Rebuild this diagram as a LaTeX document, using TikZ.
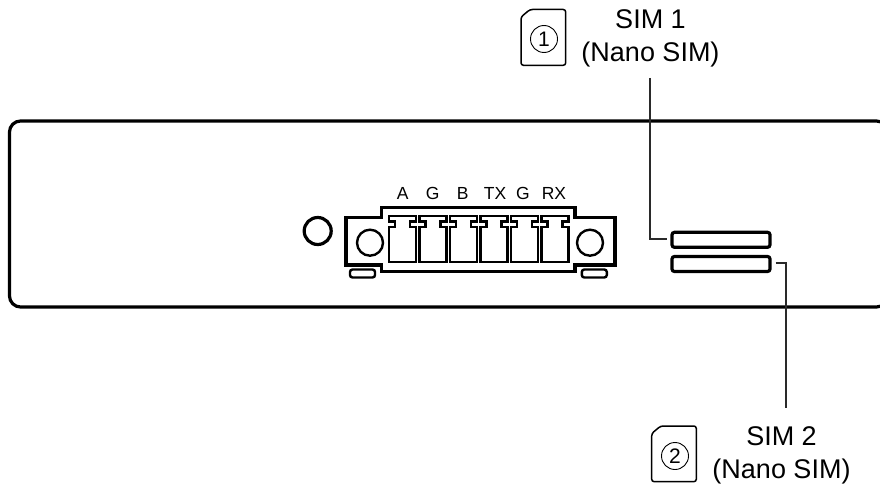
\documentclass[tikz,border=0pt]{standalone}
\usepackage{fontspec}
\setmainfont{Liberation Sans}
\usetikzlibrary{positioning, calc}
\definecolor{leaderline}{HTML}{2A2A2A}
\tikzset{
  devicebox/.style = {draw=black, line width=3.2pt, rounded corners=11pt},
  slotbox/.style   = {draw=black, line width=3.2pt, rounded corners=2.5pt, inner sep=0pt},
  roundhole/.style = {draw=black, circle, inner sep=0pt},
}

\begin{document}
\begin{tikzpicture}[
        x=1pt, y=-1pt,
        every node/.style={font=\fontsize{17}{20}\selectfont},
        simlbl/.style ={font=\fontsize{27}{33}\selectfont, align=center, inner sep=0pt},
        pinlbl/.style ={font=\fontsize{17.5}{20}\selectfont, anchor=base, inner sep=0pt},
        tab/.style    ={slotbox, line width=2.4pt, minimum width=25pt, minimum height=8pt},
        screw/.style  ={roundhole, line width=2.4pt, minimum size=26pt},
        card/.style   ={draw=black, line width=1.5pt, rounded corners=2.5pt},
        cardnum/.style={roundhole, line width=0.9pt, minimum size=27pt,
                font=\fontsize{21}{24}\selectfont},
        lead/.style   ={draw=leaderline, line width=2.8pt},
    ]
    \useasboundingbox (0,0) rectangle (880,484);

    %% --- Device front panel -------------------------------------------
    \node[devicebox, minimum width=878pt, minimum height=186pt] (device) at (448.5,214) {};
    \node[roundhole, line width=3.2pt, minimum size=27pt] (led) at (317.7,231) {};

    %% --- Terminal block ------------------------------------------------
    \draw[line width=3.2pt, line join=miter] (346,217.7) -- (381.7,217.7) -- (381.7,207.7)
        -- (575,207.7) -- (575,217.7) -- (615,217.7) -- (615,265)
        -- (575,265) -- (575,271.7) -- (381.7,271.7) -- (381.7,265) -- (346,265) -- cycle;
    \node[screw] (screwL) at (370,242.7) {};
    \node[screw] (screwR) at (590,242.7) {};
    \node[tab] (tabL) at (362.5,273.5) {};
    \node[tab] (tabR) at (594.3,273.5) {};

    % one contact, repeated along the block
    \foreach \i in {0,...,5} {
        \draw[line width=2.2pt, xshift=\i*30.5pt]
            (389,215.7) -- (416,215.7) -- (416,221.5) -- (410,221.5) -- (410,227.3) -- (416,227.3)
            -- (416,261.7) -- (389,261.7) -- (389,227.3) -- (395,227.3) -- (395,221.5)
            -- (389,221.5) -- cycle;
    }

    \node[pinlbl] (pinA)  at (402.7,199) {A};
    \node[pinlbl] (pinG)  at (432.7,199) {G};
    \node[pinlbl] (pinB)  at (462.7,199) {B};
    \node[pinlbl] (pinTX) at (495,199)   {TX};
    \node[pinlbl] (pinGb) at (523,199)   {G};
    \node[pinlbl] (pinRX) at (554,199)   {RX};

    %% --- SIM slots ------------------------------------------------------
    \node[slotbox, minimum width=98pt, minimum height=15pt] (slotA) at (721,239.8) {};
    \node[slotbox, minimum width=98pt, minimum height=15pt] (slotB) at (721,264) {};

    %% --- SIM 1 callout ---------------------------------------------------
    \node[simlbl] (simA) at (650.5,38.5) {SIM 1\\(Nano SIM)};
    \draw[card] (530,9.5) -- (565.7,9.5) -- (565.7,65.3) -- (521,65.3) -- (521,17) -- cycle;
    \node[cardnum] (numA) at (544,39) {1};
    \coordinate (kneeA) at (650,239);
    \draw[lead] (650,78) -- (kneeA) -- ([xshift=-3pt]slotA.west |- kneeA);

    %% --- SIM 2 callout ---------------------------------------------------
    \node[simlbl] (simB) at (781.5,455.5) {SIM 2\\(Nano SIM)};
    \draw[card] (660.7,426) -- (696.3,426) -- (696.3,481.7) -- (651.7,481.7) -- (651.7,433.5) -- cycle;
    \node[cardnum] (numB) at (675,456) {2};
    \coordinate (kneeB) at (786,263);
    \draw[lead] ([xshift=4pt]slotB.east |- kneeB) -- (kneeB) -- (786,408);
\end{tikzpicture}
\end{document}
